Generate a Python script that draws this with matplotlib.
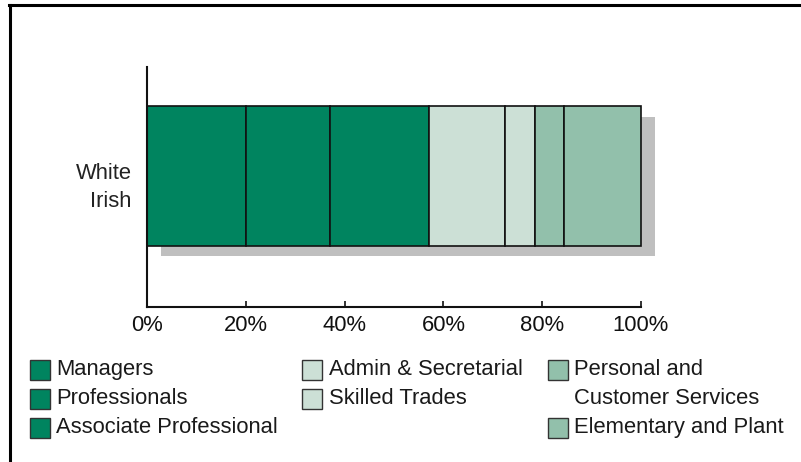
import matplotlib
matplotlib.use("Agg")
import matplotlib.pyplot as plt
from matplotlib.patches import Rectangle
from matplotlib.lines import Line2D
from matplotlib.transforms import ScaledTranslation

plt.rcParams['font.family'] = ['Liberation Sans', 'DejaVu Sans']

# Occupation mix for one ethnic group (percent of employed)
group = "White\nIrish"
occupations = [
    "Managers",
    "Professionals",
    "Associate Professional",
    "Admin & Secretarial",
    "Skilled Trades",
    "Personal and\nCustomer Services",
    "Elementary and Plant",
]
shares = [20.0, 17.0, 20.0, 15.5, 6.0, 6.0, 15.5]
colors = ["#00845F", "#00845F", "#00845F",
          "#CCE0D6", "#CCE0D6",
          "#92C0AB", "#92C0AB"]
tick_values = [0, 20, 40, 60, 80, 100]
tick_labels = ["0%", "20%", "40%", "60%", "80%", "100%"]

W, H = 801, 462
DPI = 100
FS = 15.8

fig = plt.figure(figsize=(W / DPI, H / DPI), dpi=DPI)


def fx(px):
    return px / W


def fy(py):
    return 1 - py / H


ax = fig.add_axes([fx(147), fy(307), 494 / W, 240 / H])

# drop shadow behind the whole bar
shadow = ScaledTranslation(13.5 / DPI, -10.5 / DPI, fig.dpi_scale_trans)
ax.barh([0], [sum(shares)], height=1.0, left=0, color="#BFBFBF",
        edgecolor="none", transform=ax.transData + shadow, zorder=1,
        clip_on=False)

left = 0.0
for share, col in zip(shares, colors):
    ax.barh([0], [share], height=1.0, left=left, color=col,
            edgecolor="#111111", linewidth=1.2, zorder=2, clip_on=False)
    left += share

ax.set_xlim(0, 100)
ax.set_ylim(-0.936, 0.779)

for s in ["top", "right"]:
    ax.spines[s].set_visible(False)
for s in ["left", "bottom"]:
    ax.spines[s].set_linewidth(1.5)
    ax.spines[s].set_color("#111111")
    ax.spines[s].set_zorder(3)

ax.set_xticks(tick_values, tick_labels)
ax.tick_params(axis="x", direction="in", length=4, width=1.2,
               labelsize=FS, pad=6, colors="#111111")
ax.set_yticks([0], [group])
ax.tick_params(axis="y", length=0, labelsize=FS, pad=11, colors="#222222")
for lbl in ax.get_yticklabels():
    lbl.set_linespacing(1.45)
    lbl.set_transform(lbl.get_transform() +
                      ScaledTranslation(0, -5 / DPI, fig.dpi_scale_trans))

# legend laid out in three columns
cols = [(30, 56), (302, 329), (548, 574)]
rows = [370, 399, 428]
slots = [(0, 0), (0, 1), (0, 2), (1, 0), (1, 1), (2, 0), (2, 2)]
for name, col, (c, r) in zip(occupations, colors, slots):
    sx, tx = cols[c]
    cy = rows[r]
    fig.patches.append(Rectangle((fx(sx), fy(cy + 10)), 20 / W, 20 / H,
                                 transform=fig.transFigure, facecolor=col,
                                 edgecolor="#333333", linewidth=1.0))
    fig.text(fx(tx), fy(cy - 11), name, ha="left", va="top", fontsize=FS,
             color="#1a1a1a", linespacing=1.5)

# frame along top and left edges
fig.lines.append(Line2D([fx(10), fx(10)], [fy(5), fy(470)],
                        transform=fig.transFigure, color="black", lw=2.2))
fig.lines.append(Line2D([fx(9), fx(810)], [fy(5), fy(5)],
                        transform=fig.transFigure, color="black", lw=2.2))

fig.savefig("out.png", dpi=DPI)
